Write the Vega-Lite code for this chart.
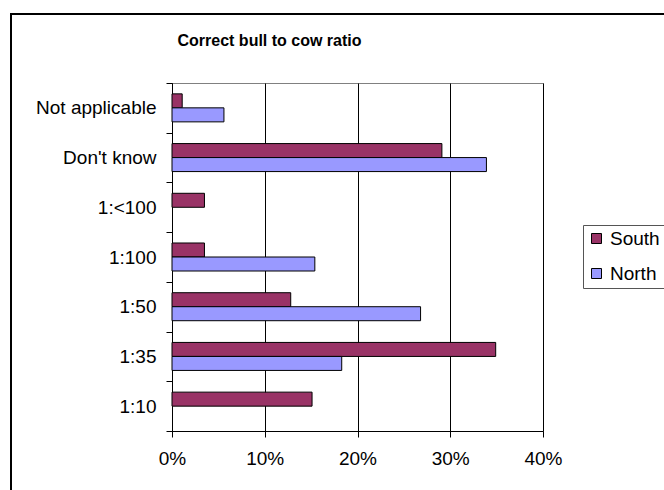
{
  "$schema": "https://vega.github.io/schema/vega-lite/v6.json",
  "autosize": {"type": "none"},
  "padding": {"left": 172, "top": 83, "right": 121, "bottom": 59},
  "width": 371,
  "height": 348,
  "background": "white",
  "title": {
    "text": "Correct bull to cow ratio",
    "font": "Liberation Sans",
    "fontSize": 16,
    "fontWeight": "bold",
    "color": "black",
    "anchor": "middle",
    "frame": "group",
    "dx": -88,
    "offset": -49,
    "baseline": "alphabetic"
  },
  "config": {
    "font": "Liberation Sans",
    "view": {"stroke": "#808080", "strokeWidth": 1}
  },
  "data": {
    "values": [
      {"answer": "Not applicable", "region": "South", "pct": 1.1},
      {"answer": "Not applicable", "region": "North", "pct": 5.6},
      {"answer": "Don't know", "region": "South", "pct": 29.1},
      {"answer": "Don't know", "region": "North", "pct": 33.9},
      {"answer": "1:<100", "region": "South", "pct": 3.5},
      {"answer": "1:100", "region": "South", "pct": 3.5},
      {"answer": "1:100", "region": "North", "pct": 15.4},
      {"answer": "1:50", "region": "South", "pct": 12.8},
      {"answer": "1:50", "region": "North", "pct": 26.8},
      {"answer": "1:35", "region": "South", "pct": 34.9},
      {"answer": "1:35", "region": "North", "pct": 18.3},
      {"answer": "1:10", "region": "South", "pct": 15.1}
    ]
  },
  "layer": [
    {
      "mark": {"type": "rect", "fill": null, "stroke": "black", "strokeWidth": 2, "clip": false},
      "encoding": {
        "x": {"value": -161},
        "x2": {"value": 510},
        "y": {"value": -69},
        "y2": {"value": 420}
      }
    },
    {
      "mark": {"type": "bar", "stroke": "black", "strokeWidth": 1},
      "encoding": {
        "y": {
          "field": "answer",
          "type": "nominal",
          "sort": ["Not applicable", "Don't know", "1:<100", "1:100", "1:50", "1:35", "1:10"],
          "scale": {"paddingInner": 0, "paddingOuter": 0},
          "axis": {
            "title": null,
            "tickBand": "extent",
            "domainColor": "black",
            "tickColor": "black",
            "tickSize": 6,
            "labelPadding": 10,
            "labelFontSize": 19,
            "labelColor": "black",
            "labelFont": "Liberation Sans",
            "grid": false
          }
        },
        "yOffset": {
          "field": "region",
          "type": "nominal",
          "sort": ["South", "North"],
          "scale": {"paddingInner": 0, "paddingOuter": 0.775}
        },
        "x": {
          "field": "pct",
          "type": "quantitative",
          "scale": {"domain": [0, 40], "nice": false},
          "axis": {
            "title": null,
            "values": [0, 10, 20, 30, 40],
            "labelExpr": "datum.value + '%'",
            "labelFlush": false,
            "domainColor": "black",
            "tickColor": "black",
            "tickSize": 6,
            "labelPadding": 12,
            "labelFontSize": 19,
            "labelColor": "black",
            "labelFont": "Liberation Sans",
            "grid": true,
            "gridColor": "black",
            "gridOpacity": 1
          }
        },
        "color": {
          "field": "region",
          "type": "nominal",
          "scale": {"domain": ["South", "North"], "range": ["#993366", "#9999FF"]},
          "legend": {
            "title": null,
            "orient": "none",
            "legendX": 411,
            "legendY": 142,
            "padding": 4,
            "strokeColor": "#555555",
            "fillColor": "white",
            "symbolType": "square",
            "symbolSize": 100,
            "symbolStrokeColor": "black",
            "symbolStrokeWidth": 1,
            "symbolOpacity": 1,
            "labelFontSize": 19,
            "labelFont": "Liberation Sans",
            "labelColor": "black",
            "labelOffset": 4,
            "rowPadding": 15
          }
        }
      }
    }
  ]
}
